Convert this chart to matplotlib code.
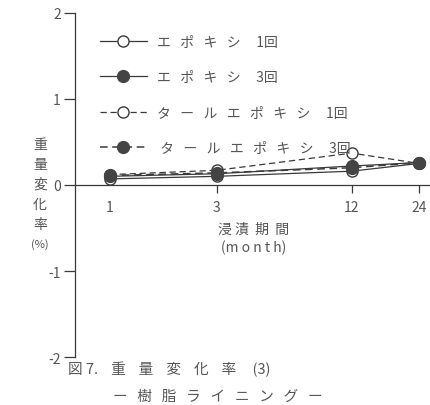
import numpy as np
import matplotlib.pyplot as plt
from matplotlib.legend_handler import HandlerLine2D

plt.rcParams['font.family'] = ['Noto Sans CJK JP', 'DejaVu Sans']

months = [1, 3, 12, 24]
epoxy_1 = [0.07, 0.10, 0.16, 0.25]
epoxy_3 = [0.10, 0.13, 0.22, 0.26]
tar_epoxy_1 = [0.12, 0.17, 0.37, 0.25]
tar_epoxy_3 = [0.11, 0.14, 0.20, 0.26]

labels = ['エ   ポ   キ   シ     1回',
          'エ   ポ   キ   シ     3回',
          'タ   ー   ル   エ   ポ   キ   シ     1回',
          ' タ   ー   ル   エ   ポ   キ   シ     3回']

ink = '#3a3a3a'
txt = '#555555'


# legend marker sits left of centre like in the original drawing
class LeftMarker(HandlerLine2D):
    def get_xdata(self, legend, xdescent, ydescent, width, height, fontsize):
        xdata, _ = super().get_xdata(legend, xdescent, ydescent, width, height, fontsize)
        return xdata, np.array([-xdescent + 0.36 * width])


fig = plt.figure(figsize=(4.3, 4.06), dpi=100)
ax = fig.add_axes([0.174, 0.118, 0.826, 0.848])

lines = []
lines += ax.plot(months, epoxy_1, '-', color=ink, lw=0.9, marker='o', ms=8,
                 mfc='white', mec=ink, mew=1.0, label=labels[0])
lines += ax.plot(months, epoxy_3, '-', color=ink, lw=0.9, marker='o', ms=8.5,
                 mfc='#444444', mec='#444444', label=labels[1])
lines += ax.plot(months, tar_epoxy_1, '--', color=ink, lw=0.9, dashes=(5, 3), marker='o', ms=8,
                 mfc='white', mec=ink, mew=1.0, label=labels[2])
lines += ax.plot(months, tar_epoxy_3, '--', color=ink, lw=1.1, dashes=(5, 3), marker='o', ms=8.5,
                 mfc='#444444', mec='#444444', label=labels[3])

ax.set_xscale('log')
ax.set_xlim(0.70, 26.8)
ax.set_ylim(-2, 2)

# spines: y axis on the left, x axis through zero
ax.spines['top'].set_visible(False)
ax.spines['right'].set_visible(False)
ax.spines['bottom'].set_position(('data', 0))
ax.spines['left'].set_color(ink)
ax.spines['bottom'].set_color(ink)
ax.spines['left'].set_linewidth(0.9)
ax.spines['bottom'].set_linewidth(0.9)

ax.set_yticks([-2, -1, 0, 1, 2])
ax.set_yticklabels(['-2', '-1', '0', '1', '2'])
ax.tick_params(axis='y', direction='out', length=8, width=0.9, color=ink,
               labelsize=10, labelcolor=txt, pad=2)

ax.set_xticks(months)
ax.set_xticklabels([str(m) for m in months])
ax.xaxis.set_minor_locator(plt.NullLocator())
ax.tick_params(axis='x', direction='out', length=6, width=0.9, color=ink,
               labelsize=10, labelcolor=txt, pad=5)
ax.xaxis.get_major_ticks()[0].tick1line.set_visible(False)

# axis titles
fig.text(0.59, 0.433, '浸 漬  期  間', ha='center', va='center', fontsize=10, color=txt)
fig.text(0.59, 0.389, '(m o n t h)', ha='center', va='center', fontsize=10, color=txt)

ylab_chars = ['重', '量', '変', '化', '率', '(%)']
for i, ch in enumerate(ylab_chars):
    fig.text(0.093, 0.643 - i * 0.049, ch, ha='center', va='center',
             fontsize=10 if i < 5 else 8, color=txt)

# caption
fig.text(0.158, 0.089, '図 7.    重    量    変    化    率     (3)', ha='left', va='center',
         fontsize=10.5, color=txt)
fig.text(0.506, 0.022, 'ー   樹   脂   ラ   イ   ニ   ン   グ   ー', ha='center', va='center',
         fontsize=10.5, color=txt)

leg = ax.legend(loc='upper left', bbox_to_anchor=(0.035, 0.973), frameon=False,
                handlelength=3.4, handletextpad=0.7, labelspacing=1.55,
                fontsize=10, handler_map={l: LeftMarker() for l in lines})
for t in leg.get_texts():
    t.set_color(txt)

fig.savefig('out.png', dpi=100)
